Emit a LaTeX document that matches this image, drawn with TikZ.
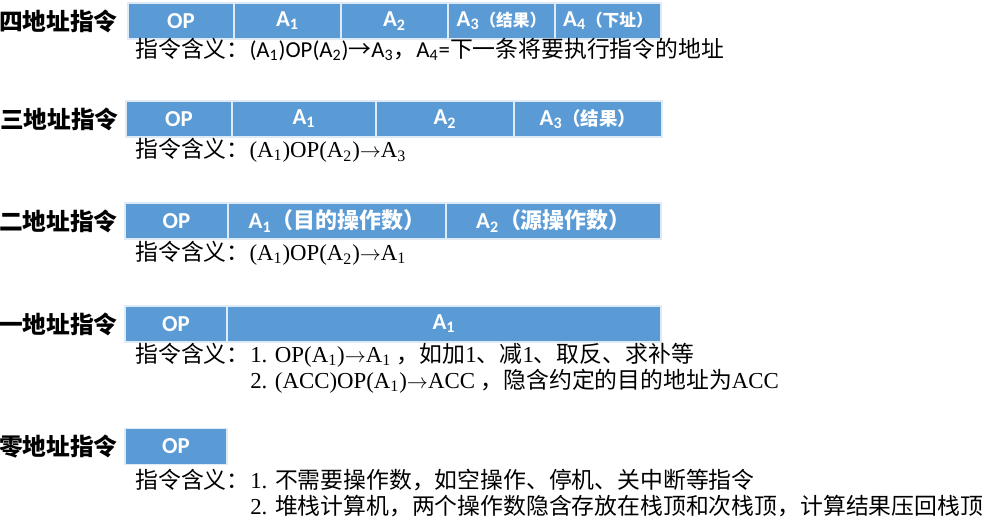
\documentclass[tikz,border=0pt]{standalone}
\usepackage{fontspec}
\setmainfont{Liberation Serif}
\newfontfamily\cjk{Noto Sans CJK SC}
\newfontfamily\cellfnt{Carlito}
\usetikzlibrary{positioning}
\definecolor{opblue}{RGB}{91,155,213}
\newcommand\zh[1]{{\cjk #1}}
\newcommand\cellzh[2]{{\cjk\bfseries\fontsize{#1}{#1}\selectfont #2}}
\newcommand\sbs[1]{\textsubscript{#1}}

\begin{document}
\begin{tikzpicture}[
  x=0.02cm, y=-0.02cm,
  cell/.style ={draw=white!80!opblue, line width=0.6pt, fill=opblue, text=white, minimum height=0.72cm,
                inner sep=0pt, outer sep=0pt, font=\cellfnt\bfseries\fontsize{13}{15}\selectfont},
  cw/.style   ={minimum width=#1*0.02cm},
  kind/.style ={font=\cjk\bfseries\fontsize{13.5}{16}\selectfont, inner sep=0pt},
  mean/.style ={inner sep=0pt, anchor=west, text height=0.85em, text depth=0.2em, font=\fontsize{13}{15}\selectfont},
  node distance=0pt,
]
  \useasboundingbox (0,0) rectangle (998,526);

  % four-address
  \node[cell, cw=106, anchor=west] (op4) at (128,21) {OP};
  \node[cell, cw=107, right=of op4] (a41) {A\sbs{1}};
  \node[cell, cw=107, right=of a41] (a42) {A\sbs{2}};
  \node[cell, cw=107, right=of a42] (a43) {A\sbs{3}\cellzh{9.5}{（结果）}};
  \node[cell, cw=106, right=of a43] (a44) {A\sbs{4}\cellzh{9.5}{（下址）}};
  \node[kind, left=0.2cm of op4] (k4) {四地址指令};
  \node[mean] (m4) at (135,52) {\zh{指令含义：}\cellfnt (A\sbs{1})OP(A\sbs{2})\zh{→}A\sbs{3}\zh{，}A\sbs{4}=\zh{下一条将要执行指令的地址}};

  % three-address
  \node[cell, cw=106, anchor=west] (op3) at (126,119) {OP};
  \node[cell, cw=144, right=of op3] (a31) {A\sbs{1}};
  \node[cell, cw=138, right=of a31] (a32) {A\sbs{2}};
  \node[cell, cw=148, right=of a32] (a33) {A\sbs{3}\cellzh{10.5}{（结果）}};
  \node[kind, left=0.14cm of op3] (k3) {三地址指令};
  \node[mean] (m3) at (135,152) {\zh{指令含义：}(A\sbs{1})OP(A\sbs{2})$\rightarrow$A\sbs{3}};

  % two-address
  \node[cell, cw=103, anchor=west] (op2) at (125,221) {OP};
  \node[cell, cw=218, right=of op2] (a21) {A\sbs{1}\cellzh{12.5}{（目的操作数）}};
  \node[cell, cw=215, right=of a21] (a22) {A\sbs{2}\cellzh{12.5}{（源操作数）}};
  \node[kind, left=0.14cm of op2] (k2) {二地址指令};
  \node[mean] (m2) at (135,255) {\zh{指令含义：}(A\sbs{1})OP(A\sbs{2})$\rightarrow$A\sbs{1}};

  % one-address
  \node[cell, cw=102, anchor=west] (op1) at (125,324) {OP};
  \node[cell, cw=434, right=of op1] (a11) {A\sbs{1}};
  \node[kind, left=0.14cm of op1] (k1) {一地址指令};
  \node[mean] (m1) at (135,357) {\zh{指令含义：}};
  \node[mean, right=of m1] (m1a) {1. OP(A\sbs{1})$\rightarrow$A\sbs{1} \zh{，如加}1\zh{、减}1\zh{、取反、求补等}};
  \node[mean, below=0.52cm of m1a.west, anchor=west] (m1b) {2. (ACC)OP(A\sbs{1})$\rightarrow$ACC \zh{，隐含约定的目的地址为}ACC};

  % zero-address
  \node[cell, cw=102, anchor=west] (op0) at (125,446.5) {OP};
  \node[kind, left=0.14cm of op0] (k0) {零地址指令};
  \node[mean] (m0) at (135,483) {\zh{指令含义：}};
  \node[mean, right=of m0] (m0a) {1. \zh{不需要操作数，如空操作、停机、关中断等指令}};
  \node[mean, below=0.52cm of m0a.west, anchor=west] (m0b) {2. \zh{堆栈计算机，两个操作数隐含存放在栈顶和次栈顶，计算结果压回栈顶}};
\end{tikzpicture}
\end{document}
